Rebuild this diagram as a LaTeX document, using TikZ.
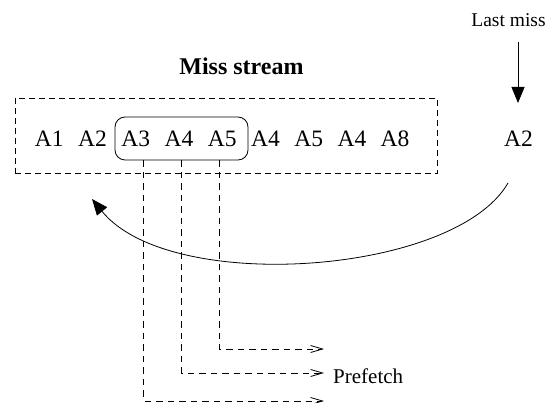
\documentclass[tikz,border=0pt]{standalone}
\usepackage{fontspec}
\setmainfont{Liberation Serif}
\usetikzlibrary{arrows.meta}
\begin{document}
\begin{tikzpicture}[x=1pt,y=-1pt,
  item/.style={anchor=base,inner sep=0pt,font=\fontsize{23.5}{28}\selectfont},
  small/.style={inner sep=0pt,font=\fontsize{19.5}{24}\selectfont},
  framebox/.style={draw,dash pattern=on 6pt off 4pt,line width=0.8pt,inner sep=0pt},
  window/.style={draw,rounded corners=10pt,line width=0.8pt,inner sep=0pt},
  feed/.style={dash pattern=on 6.5pt off 5pt,line width=0.8pt,-{Straight Barb[length=12pt,width=7pt,line width=0.8pt]}},
  solidarrow/.style={line width=0.8pt,-{Triangle[length=16pt,width=13pt]}}]
\useasboundingbox (0,0) rectangle (546,403);

% title and stream contents
\node[anchor=base,inner sep=0pt,font=\fontsize{24}{29}\selectfont\bfseries] (title) at (241.5,75) {Miss stream};
\node[framebox,minimum width=422.7pt,minimum height=75pt] (stream) at (226.3,135.5) {};
\node[window,minimum width=133pt,minimum height=43pt] (win) at (181.5,138.5) {};
\node[item] (a1) at (49.3,147) {A1};
\node[item] (a2) at (92.5,147) {A2};
\node[item] (a3) at (135.8,147) {A3};
\node[item] (a4) at (179,147) {A4};
\node[item] (a5) at (222.3,147) {A5};
\node[item] (a6) at (265.5,147) {A4};
\node[item] (a7) at (308.8,147) {A5};
\node[item] (a8) at (352,147) {A4};
\node[item] (a9) at (395,147) {A8};

% newest miss
\node[item] (last) at (518.5,147) {A2};
\node[small,anchor=base] (lastlbl) at (508.5,27) {Last miss};
\coordinate (inTop) at (518,42);
\coordinate (inEnd) at (518,103);
\draw[solidarrow] (inTop) -- (inEnd);

% feedback of the last miss into the stream
\coordinate (backStart) at (508,183);
\coordinate (backEnd) at (92,199);
\draw[solidarrow] (backStart) .. controls (455,275) and (170,295) .. (backEnd);

% prefetch paths from the matched window
\coordinate (c3) at (143.8,401);
\coordinate (c4) at (181.8,373);
\coordinate (c5) at (219.4,349);
\coordinate (e3) at (324,401);
\coordinate (e4) at (324,373);
\coordinate (e5) at (324,349);
\draw[feed] (c3 |- win.south) -- (c3) -- (e3);
\draw[feed] (c4 |- win.south) -- (c4) -- (e4);
\draw[feed] (c5 |- win.south) -- (c5) -- (e5);
\node[anchor=base west,inner sep=0pt,font=\fontsize{21}{25}\selectfont] (pf) at (333,383) {Prefetch};
\end{tikzpicture}
\end{document}
